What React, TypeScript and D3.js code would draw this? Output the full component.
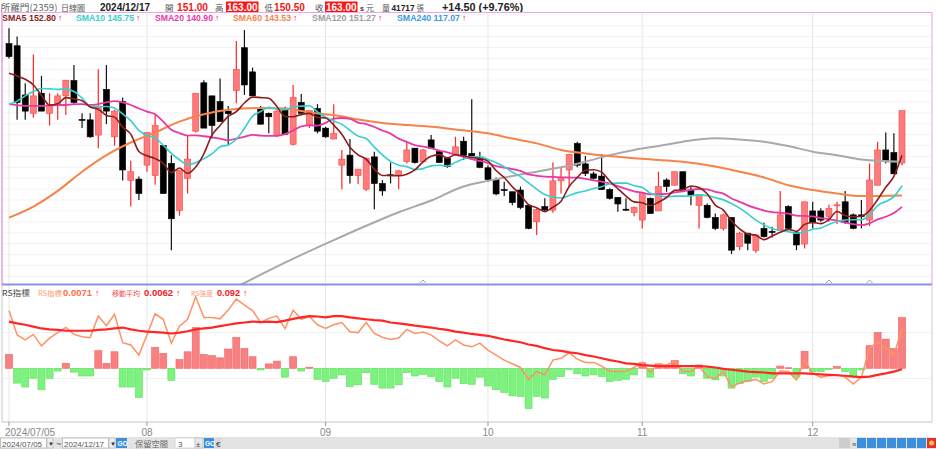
import * as d3 from "d3";

// ---- candle data 2024/07/05 .. 2024/12/17 (所羅門 2359, daily) ----
const opens = [178.4, 177.9, 166.6, 162.4, 167.0, 162.4, 164.3, 166.4, 169.9, 161.0, 160.9, 157.4, 167.9, 157.0, 165.1, 147.0, 147.3, 150.5, 148.1, 155.0, 150.9, 140.1, 147.5, 158.3, 169.4, 166.4, 165.1, 162.9, 167.6, 177.45, 171.9, 163.5, 162.4, 157.4, 163.2, 155.3, 164.9, 159.7, 163.5, 159.0, 156.5, 150.5, 152.8, 148.1, 145.0, 152.4, 146.3, 148.3, 148.1, 151.3, 154.4, 151.3, 156.3, 153.6, 152.1, 153.0, 156.0, 153.2, 152.1, 149.9, 147.2, 144.9, 144.4, 144.8, 141.3, 137.5, 141.0, 140.2, 146.9, 149.4, 155.5, 150.8, 148.5, 148.0, 144.9, 143.1, 140.4, 139.6, 137.9, 142.9, 140.0, 147.1, 145.9, 149.0, 144.8, 141.3, 141.3, 138.5, 136.0, 138.5, 131.8, 134.9, 130.9, 136.0, 135.3, 135.6, 141.0, 135.0, 132.4, 140.0, 140.0, 138.7, 141.3, 142.1, 139.1, 139.1, 137.9, 145.9, 154.0, 153.4, 151.0];
const highs = [181.9, 180.0, 169.3, 175.9, 171.0, 167.0, 167.0, 170.0, 173.5, 162.4, 162.4, 172.5, 173.5, 163.2, 166.0, 151.5, 147.9, 158.0, 162.2, 155.0, 152.8, 149.4, 157.4, 167.0, 170.0, 166.4, 170.4, 164.1, 179.0, 181.5, 172.9, 164.1, 162.6, 163.2, 163.9, 168.9, 166.8, 163.0, 164.5, 159.3, 164.5, 154.0, 156.5, 149.6, 152.2, 153.6, 147.1, 151.1, 149.4, 155.9, 154.4, 154.2, 157.4, 154.0, 152.4, 157.0, 157.0, 165.6, 153.6, 150.5, 147.7, 146.7, 144.4, 145.6, 141.6, 140.6, 142.9, 151.1, 150.0, 153.0, 155.9, 152.6, 149.0, 153.0, 145.2, 143.1, 142.9, 141.0, 144.0, 143.1, 149.0, 147.5, 149.0, 149.0, 145.6, 143.8, 141.7, 139.4, 139.4, 138.5, 135.2, 135.0, 134.7, 137.3, 136.4, 144.6, 141.3, 135.0, 142.1, 142.1, 140.6, 141.4, 142.1, 144.6, 139.4, 142.5, 150.9, 155.9, 158.0, 157.8, 163.0];
const lows = [175.0, 160.9, 160.9, 161.4, 162.9, 159.6, 160.9, 162.0, 164.7, 159.0, 156.8, 154.4, 159.9, 155.0, 147.0, 141.0, 142.5, 149.0, 146.0, 144.0, 131.0, 138.9, 144.0, 158.0, 159.0, 156.6, 160.5, 155.0, 164.7, 166.6, 166.4, 159.9, 157.8, 157.0, 157.5, 155.0, 162.4, 159.0, 157.8, 156.8, 156.5, 145.0, 146.3, 146.1, 144.6, 140.4, 143.5, 146.3, 145.0, 150.9, 150.9, 151.1, 154.4, 151.1, 149.9, 152.7, 151.7, 152.3, 149.8, 146.7, 143.6, 143.4, 141.3, 140.4, 135.8, 134.5, 140.0, 139.6, 144.0, 145.4, 150.0, 148.0, 147.2, 144.8, 142.6, 139.8, 140.0, 138.8, 136.0, 139.4, 140.0, 144.4, 145.9, 144.8, 141.3, 136.0, 138.3, 135.6, 135.5, 130.1, 131.0, 131.0, 130.4, 133.9, 133.9, 135.5, 135.6, 131.0, 131.4, 136.0, 137.5, 137.5, 137.0, 137.0, 135.8, 136.0, 136.5, 145.9, 150.9, 148.5, 150.5];
const closes = [175.4, 164.9, 162.9, 166.4, 162.9, 164.3, 166.4, 170.0, 164.9, 160.9, 157.0, 163.9, 162.9, 162.9, 149.4, 149.0, 144.0, 158.0, 159.6, 144.0, 138.2, 149.4, 151.9, 167.0, 159.0, 159.6, 160.5, 162.3, 172.5, 168.9, 166.4, 159.9, 161.6, 162.9, 157.6, 166.0, 162.4, 163.0, 158.3, 157.0, 157.8, 151.9, 148.1, 149.6, 152.1, 146.3, 144.6, 148.1, 149.2, 154.0, 151.1, 154.0, 154.4, 151.1, 150.2, 154.7, 152.7, 152.6, 150.0, 147.2, 143.9, 144.7, 141.9, 140.8, 136.0, 140.3, 140.2, 146.9, 147.7, 153.0, 150.5, 148.6, 147.5, 144.9, 142.9, 141.6, 140.2, 140.8, 144.0, 139.4, 145.6, 145.6, 149.0, 144.8, 143.6, 143.8, 138.5, 136.0, 139.1, 131.0, 134.9, 132.6, 134.5, 134.1, 135.2, 139.1, 136.0, 132.2, 142.1, 137.3, 137.9, 140.6, 141.4, 137.3, 136.0, 138.7, 147.1, 154.0, 151.3, 148.5, 163.0];

const sma5Head = [171.6, 171.0, 170.2, 168.9];
const sma10Head = [164.5, 165.2, 166.4, 167.4, 168.1, 168.0, 167.9, 168.0, 167.4];
const sma20Head = [164.5, 164.3, 164.1, 164.1, 164.1, 164.2, 164.3, 164.3, 164.5, 164.5, 164.3, 164.5, 164.9, 165.2, 164.9, 164.3, 163.5, 162.8, 162.2];
const sma60Idx = [0, 3, 6, 9, 12, 15, 18, 21, 24, 27, 31, 34, 37, 40, 43, 46, 49, 52, 55, 59, 62, 65, 68, 71, 74, 77, 80, 83, 87, 90, 93, 96, 99, 102, 105, 110];
const sma60Val = [138.45, 141.0, 144.6, 149.0, 152.8, 155.7, 158.0, 160.5, 162.2, 163.2, 163.6, 163.5, 162.6, 162.0, 161.0, 160.2, 159.7, 159.3, 158.7, 157.8, 156.6, 155.5, 154.0, 153.2, 152.6, 152.1, 151.7, 151.3, 150.2, 149.0, 147.7, 145.9, 144.8, 144.0, 143.4, 143.53];
const sma120Idx = [27, 32, 36, 40, 44, 48, 52, 56, 59, 62, 65, 68, 71, 74, 77, 80, 83, 87, 90, 93, 96, 99, 102, 105, 110];
const sma120Val = [121.6, 126.3, 129.9, 133.3, 136.6, 139.7, 142.4, 145.6, 146.9, 148.0, 149.0, 150.0, 151.3, 152.8, 154.0, 154.9, 155.9, 156.7, 156.4, 155.9, 154.9, 153.6, 152.8, 151.8, 151.27];

// RS panel
const rsStrength = [0.025, -0.027, -0.034, -0.018, -0.039, -0.018, -0.005, 0.009, -0.007, -0.014, -0.014, 0.032, 0.009, 0.030, -0.034, -0.034, -0.053, -0.003, 0.038, 0.027, -0.022, 0.016, 0.030, 0.074, 0.025, 0.023, 0.019, 0.035, 0.056, 0.036, 0.021, -0.003, 0.008, 0.013, -0.016, 0.021, -0.005, 0.002, -0.020, -0.024, -0.018, -0.012, -0.033, -0.030, -0.008, -0.029, -0.036, -0.036, -0.030, -0.008, -0.014, -0.011, -0.015, -0.024, -0.034, -0.018, -0.028, -0.029, -0.016, -0.032, -0.039, -0.044, -0.050, -0.051, -0.073, -0.051, -0.054, -0.020, -0.015, -0.002, -0.010, -0.014, -0.012, -0.015, -0.024, -0.022, -0.020, -0.012, 0.010, -0.016, 0.008, 0.006, 0.014, -0.010, -0.014, 0.006, -0.018, -0.021, -0.014, -0.036, -0.028, -0.024, -0.016, -0.024, -0.018, 0.004, 0.001, -0.016, 0.031, -0.006, -0.006, -0.002, 0.003, -0.006, -0.014, -0.003, 0.041, 0.065, 0.053, 0.036, 0.092];
// RS指標 and its moving average, in units of 0.0001
const rsLine = [74.8, 69.5, 68.4, 69.6, 67.1, 68.8, 70.0, 71.1, 69.6, 69.1, 68.9, 73.6, 71.5, 74.0, 67.8, 67.3, 65.1, 69.5, 74.1, 72.9, 67.7, 71.4, 72.9, 77.8, 73.3, 73.3, 73.0, 74.9, 77.3, 76.0, 74.8, 72.2, 73.1, 73.6, 70.9, 74.9, 72.9, 73.5, 71.7, 70.9, 71.7, 72.2, 70.2, 70.0, 72.2, 69.8, 69.0, 68.5, 68.8, 70.7, 69.8, 70.1, 69.5, 68.2, 67.1, 68.4, 67.3, 66.9, 67.7, 66.2, 65.1, 64.0, 63.2, 62.4, 59.8, 61.5, 60.8, 64.0, 64.4, 65.6, 64.2, 63.5, 63.5, 62.7, 61.6, 61.5, 61.6, 62.4, 63.5, 61.3, 63.2, 62.9, 63.8, 61.5, 61.5, 62.7, 60.4, 60.0, 61.5, 58.2, 59.0, 59.5, 59.8, 58.8, 59.3, 61.6, 61.5, 59.7, 64.0, 61.1, 60.3, 60.6, 60.8, 60.3, 58.8, 60.3, 66.6, 68.0, 66.6, 65.1, 70.9];
const rsAvg = [72.4, 72.0, 71.7, 71.3, 70.9, 70.7, 70.6, 70.4, 70.4, 70.4, 70.4, 70.6, 70.7, 70.9, 71.1, 70.7, 70.4, 70.2, 70.1, 70.0, 69.8, 70.0, 70.3, 70.7, 70.9, 71.1, 71.4, 71.7, 72.0, 72.2, 72.4, 72.3, 72.4, 72.3, 72.6, 73.0, 73.3, 73.6, 73.5, 73.3, 73.6, 73.6, 73.3, 73.1, 72.9, 72.7, 72.6, 72.2, 72.0, 71.8, 71.5, 71.3, 71.1, 70.8, 70.6, 70.2, 70.0, 69.7, 69.5, 69.3, 68.9, 68.5, 68.2, 67.9, 67.4, 67.1, 66.6, 66.2, 66.0, 65.7, 65.5, 65.1, 64.8, 64.4, 64.0, 63.7, 63.3, 63.2, 62.9, 62.8, 62.7, 62.7, 62.7, 62.7, 62.7, 62.7, 62.6, 62.4, 62.1, 61.9, 61.7, 61.5, 61.4, 61.3, 61.1, 61.1, 61.1, 61.1, 61.1, 61.0, 60.9, 60.8, 60.7, 60.6, 60.4, 60.3, 60.4, 60.8, 61.1, 61.5, 62.0];

const tickIdx = [0, 17, 39, 59, 78, 99];
const tickLabels = ["2024/07/05", "08", "09", "10", "11", "12"];
const markIdx = [51, 101, 106];

const W = 936;
const H = 449;
const FONT = "'Liberation Sans', Arial, 'Noto Sans CJK TC', sans-serif";
const CJK = "'Noto Sans CJK TC', 'Liberation Sans', sans-serif";

const up = { body: "#FF7A7A", edge: "#F24A4A", wick: "#FF2424" };

// fitted text helper: keeps a label inside the width it has in the picture
function T(props: { x: number; y: number; w: number; fill: string; size: number; bold?: boolean; cjk?: boolean; children: any }) {
  return (
    <text
      x={props.x}
      y={props.y}
      fill={props.fill}
      fontSize={props.size}
      fontWeight={props.bold ? "bold" : "normal"}
      fontFamily={props.cjk ? CJK : FONT}
      textLength={props.w}
      lengthAdjust="spacingAndGlyphs"
    >
      {props.children}
    </text>
  );
}

export default function App() {
  const n = closes.length;
  const x = d3.scaleLinear().domain([0, n - 1]).range([9, 902]);
  const yP = d3.scaleLinear().domain([123.24, 185.64]).range([284, 12]);
  const yH = d3.scaleLinear().domain([-0.0975, 0.1494]).range([422, 286]);
  const yL = d3.scaleLinear().domain([50.52, 80.15]).range([422, 286]);

  const smaOf = (len: number, head: number[]) =>
    closes.map((_, i) => (i < len - 1 ? head[i] : (d3.mean(closes.slice(i - len + 1, i + 1)) as number)));
  const sma5 = smaOf(5, sma5Head);
  const sma10 = smaOf(10, sma10Head);
  const sma20 = smaOf(20, sma20Head);

  const lineIdx = d3.line<number>().x((_, i) => x(i)).y((d) => yP(d)).curve(d3.curveMonotoneX);
  const linePairs = d3
    .line<[number, number]>()
    .x((d) => x(d[0]))
    .y((d) => yP(d[1]))
    .curve(d3.curveMonotoneX);
  const rsGen = d3.line<number>().x((_, i) => x(i)).y((d) => yL(d));

  const priceGrid = d3.range(125, 185.1, 2.5);

  const maLines = [
    { d: linePairs(sma120Idx.map((v, k) => [v, sma120Val[k]] as [number, number])), c: "#A9A9A9", w: 2 },
    { d: linePairs(sma60Idx.map((v, k) => [v, sma60Val[k]] as [number, number])), c: "#F5834A", w: 2 },
    { d: lineIdx(sma20), c: "#E83AA6", w: 1.8 },
    { d: lineIdx(sma10), c: "#35CFCF", w: 1.6 },
    { d: lineIdx(sma5), c: "#8E1D1D", w: 1.6 },
  ];

  const legend = [
    { t: "SMA5", v: "152.80", c: "#8E1D1D", x: 2, w: 54 },
    { t: "SMA10", v: "145.75", c: "#35CFCF", x: 76, w: 58 },
    { t: "SMA20", v: "140.90", c: "#E83AA6", x: 155, w: 58 },
    { t: "SMA60", v: "143.53", c: "#F5834A", x: 233, w: 58 },
    { t: "SMA120", v: "151.27", c: "#A0A0A0", x: 312, w: 64 },
    { t: "SMA240", v: "117.07", c: "#3A9BE0", x: 397, w: 63 },
  ];

  return (
    <div style={{ position: "fixed", left: 0, top: 0, width: W, height: H, background: "#fff" }}>
      <svg width={W} height={H} style={{ display: "block" }} fontFamily={FONT}>
        <defs>
          <clipPath id="upClip">
            <rect x={2} y={24} width={930} height={260} />
          </clipPath>
          <clipPath id="loClip">
            <rect x={2} y={286} width={930} height={136} />
          </clipPath>
        </defs>
        <rect x={0} y={0} width={W} height={H} fill="#fff" />

        {/* header */}
        <T x={0.5} y={10.5} w={57} fill="#666" size={9.5} cjk>所羅門(2359)</T>
        <T x={61} y={10.5} w={24} fill="#555" size={8} cjk>日線圖</T>
        <T x={100} y={10.5} w={50} fill="#222" size={10} bold>2024/12/17</T>
        <T x={165} y={10.5} w={8.5} fill="#555" size={8.5} cjk>開</T>
        <T x={177} y={10.5} w={31} fill="#F01818" size={10} bold>151.00</T>
        <T x={215} y={10.5} w={8.5} fill="#555" size={8.5} cjk>高</T>
        <rect x={226} y={1.5} width={32.5} height={10.5} fill="#FF1414" />
        <T x={227} y={10.5} w={30.5} fill="#fff" size={10} bold>163.00</T>
        <T x={264.5} y={10.5} w={8.5} fill="#555" size={8.5} cjk>低</T>
        <T x={274} y={10.5} w={31} fill="#F01818" size={10} bold>150.50</T>
        <T x={315} y={10.5} w={8.5} fill="#555" size={8.5} cjk>收</T>
        <rect x={325} y={1.5} width={32.5} height={10.5} fill="#FF1414" />
        <T x={326} y={10.5} w={30.5} fill="#fff" size={10} bold>163.00</T>
        <T x={360} y={10.5} w={4} fill="#333" size={7} bold>s</T>
        <T x={366} y={10.5} w={8} fill="#555" size={8} cjk>元</T>
        <T x={382} y={10.5} w={8} fill="#555" size={8} cjk>量</T>
        <T x={391.5} y={10.5} w={23} fill="#222" size={8.2} bold>41717</T>
        <T x={416.5} y={10.5} w={7.5} fill="#555" size={7.5} cjk>張</T>
        <T x={442} y={10.5} w={81} fill="#222" size={10.8} bold>+14.50 (+9.76%)</T>

        {/* grids */}
        {priceGrid.map((p) => (
          <line key={"pg" + p} x1={3} x2={931} y1={yP(p)} y2={yP(p)} stroke="#F3F3F3" strokeWidth={1} />
        ))}
        {tickIdx.map((t) => (
          <line key={"vg" + t} x1={x(t)} x2={x(t)} y1={13} y2={422} stroke="#E6E6E6" strokeWidth={1} />
        ))}
        {[60, 70].map((v) => (
          <line key={"lg" + v} x1={3} x2={931} y1={yL(v)} y2={yL(v)} stroke="#F0F0F0" strokeWidth={1} />
        ))}

        {/* legend upper */}
        {legend.map((l) => (
          <g key={l.t}>
            <T x={l.x} y={21} w={l.w} fill={l.c} size={8.8} bold>
              {l.t} {l.v}
            </T>
            <text x={l.x + l.w + 2} y={21} fill="#F01818" fontSize={8.5} fontWeight="bold">↑</text>
          </g>
        ))}

        {/* candles */}
        <g clipPath="url(#upClip)">
          {closes.map((c, i) => {
            const o = opens[i];
            const isUp = c >= o;
            const top = yP(Math.max(o, c));
            const h = Math.max(1, Math.abs(yP(o) - yP(c)));
            return (
              <g key={"k" + i}>
                <line x1={x(i)} x2={x(i)} y1={yP(highs[i])} y2={yP(lows[i])} stroke={isUp ? up.wick : "#111"} strokeWidth={1.2} />
                <rect
                  x={x(i) - 3}
                  y={top}
                  width={6}
                  height={h}
                  fill={isUp ? up.body : "#000"}
                  stroke={isUp ? up.edge : "#000"}
                  strokeWidth={0.6}
                />
              </g>
            );
          })}
          {maLines.map((m, k) => (
            <path key={"ma" + k} d={m.d || ""} fill="none" stroke={m.c} strokeWidth={m.w} />
          ))}
        </g>

        {/* upper panel frame */}
        <line x1={2} x2={932} y1={12.5} y2={12.5} stroke="#E8A8E8" strokeWidth={1} />
        <line x1={2} x2={2} y1={12} y2={285} stroke="#E0A0E0" strokeWidth={1.5} />
        <line x1={932} x2={932} y1={12} y2={285} stroke="#E8B0E8" strokeWidth={1.2} />
        <line x1={2} x2={932} y1={284.5} y2={284.5} stroke="#8F8FE0" strokeWidth={2} />
        {markIdx.map((m) => (
          <polyline
            key={"mk" + m}
            points={`${x(m) - 3},283 ${x(m)},280 ${x(m) + 3},283`}
            fill="none"
            stroke="#9AA0C8"
            strokeWidth={1}
          />
        ))}

        {/* lower panel */}
        <g clipPath="url(#loClip)">
          {rsStrength.map((v, i) => (
            <rect
              key={"h" + i}
              x={x(i) - 3.5}
              y={Math.min(yH(v), yH(0))}
              width={7}
              height={Math.max(0.8, Math.abs(yH(v) - yH(0)))}
              fill={v >= 0 ? "#F98080" : "#7EF27E"}
              stroke={v >= 0 ? "#EF6262" : "#5AE05A"}
              strokeWidth={0.6}
            />
          ))}
          <path d={rsGen(rsLine) || ""} fill="none" stroke="#FF9264" strokeWidth={1.5} />
          <path d={rsGen(rsAvg) || ""} fill="none" stroke="#FF2626" strokeWidth={2.2} />
        </g>
        <line x1={2} x2={2} y1={285} y2={422} stroke="#C8C8C8" strokeWidth={1} />
        <line x1={932} x2={932} y1={285} y2={422} stroke="#CFCFCF" strokeWidth={1} />
        <line x1={2} x2={932} y1={422} y2={422} stroke="#C4C4C4" strokeWidth={1} />

        {/* lower legend */}
        <T x={2} y={295.5} w={28} fill="#444" size={8.2} cjk>RS指標</T>
        <T x={38} y={295.5} w={24} fill="#FF9A78" size={7.1} cjk>RS指標</T>
        <T x={63} y={295.5} w={29} fill="#FF6A45" size={9.4} bold>0.0071</T>
        <text x={95} y={295.5} fill="#F01818" fontSize={8.5} fontWeight="bold">↑</text>
        <T x={112} y={295.5} w={28} fill="#F05050" size={7} cjk>移動平均</T>
        <T x={144} y={295.5} w={29} fill="#F02020" size={9.4} bold>0.0062</T>
        <text x={176} y={295.5} fill="#F01818" fontSize={8.5} fontWeight="bold">↑</text>
        <T x={191} y={295.5} w={22} fill="#FF9A78" size={6.5} cjk>RS強度</T>
        <T x={217} y={295.5} w={23} fill="#F02020" size={9.2} bold>0.092</T>
        <text x={243} y={295.5} fill="#F01818" fontSize={8.5} fontWeight="bold">↑</text>

        {/* x axis */}
        {tickIdx.map((t, k) => (
          <g key={"t" + t}>
            <line x1={x(t)} x2={x(t)} y1={422} y2={426} stroke="#999" />
            <text
              x={k === 0 ? x(t) - 4 : x(t)}
              y={435.5}
              fill="#888"
              fontSize={10}
              textAnchor={k === 0 ? "start" : "middle"}
            >
              {tickLabels[k]}
            </text>
          </g>
        ))}

        {/* bottom toolbar */}
        <rect x={0} y={437} width={W} height={12} fill="#E3E3E3" />
        <rect x={0.5} y={438} width={46} height={10} fill="#fff" stroke="#B5B5B5" strokeWidth={0.8} />
        <text x={2} y={446.5} fontSize={8} fill="#555">2024/07/05</text>
        <rect x={47} y={438} width={6} height={10} fill="#EDEDED" stroke="#B5B5B5" strokeWidth={0.6} />
        <text x={48} y={446} fontSize={6} fill="#333">▼</text>
        <text x={56} y={446.5} fontSize={9} fill="#555">~</text>
        <rect x={62.5} y={438} width={46} height={10} fill="#fff" stroke="#B5B5B5" strokeWidth={0.8} />
        <text x={64} y={446.5} fontSize={8} fill="#555">2024/12/17</text>
        <rect x={109} y={438} width={6} height={10} fill="#EDEDED" stroke="#B5B5B5" strokeWidth={0.6} />
        <text x={110} y={446} fontSize={6} fill="#333">▼</text>
        <rect x={116} y={438} width={11} height={10} fill="#3B8FDC" />
        <text x={117.5} y={446} fontSize={6.5} fill="#fff" fontWeight="bold">GO</text>
        <T x={135} y={447} w={33} fill="#666" size={8.3} cjk>保留空間</T>
        <rect x={175} y={438} width={20} height={10} fill="#fff" stroke="#C5C5C5" strokeWidth={0.6} />
        <text x={178} y={446.5} fontSize={8} fill="#555">3</text>
        <rect x={195} y={438} width={8} height={10} fill="#E9E9E9" stroke="#B5B5B5" strokeWidth={0.6} />
        <text x={196} y={446.5} fontSize={8} fill="#444">±</text>
        <rect x={204} y={438} width={10} height={10} fill="#3B8FDC" />
        <text x={205} y={446} fontSize={6.5} fill="#fff" fontWeight="bold">GO</text>
        <rect x={215} y={438} width={6} height={10} fill="#D8D8D8" />
        <text x={216} y={446.5} fontSize={8} fill="#444">€</text>
        <rect x={839} y={438} width={11} height={10} fill="#CDCDCD" />
        <text x={852} y={446.5} fontSize={8} fill="#444">»</text>
        {[857, 867, 877, 887, 897, 907, 917].map((bx) => (
          <rect key={"b" + bx} x={bx} y={438} width={9} height={10} fill="#3B8FDC" />
        ))}
        <rect x={927} y={438} width={9} height={10} fill="#E23030" />
        <circle cx={931.5} cy={443} r={2.5} fill="#F5C542" />
      </svg>
    </div>
  );
}
